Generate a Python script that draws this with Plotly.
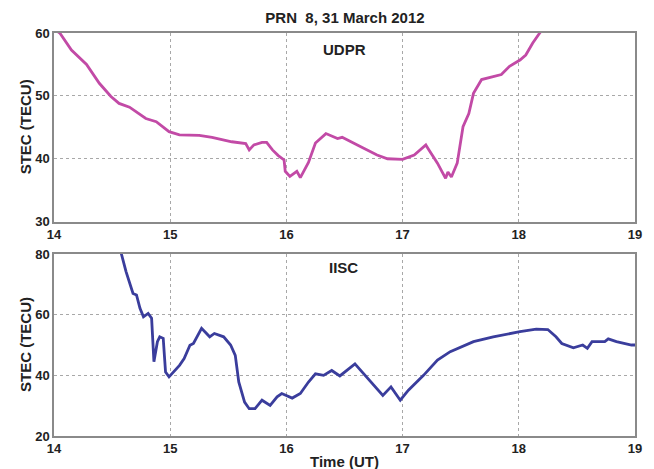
import plotly.graph_objects as go
from plotly.subplots import make_subplots

# UDPR STEC (top panel)
udpr_time = [14.0, 14.05, 14.15, 14.28, 14.39, 14.49, 14.56, 14.65, 14.79, 14.88, 14.99, 15.08, 15.25,
             15.36, 15.53, 15.65, 15.68, 15.72, 15.79, 15.83, 15.88, 15.93, 15.98, 15.99, 16.03, 16.09,
             16.12, 16.19, 16.25, 16.30, 16.34, 16.44, 16.48, 16.64, 16.78, 16.87, 17.0, 17.10, 17.20,
             17.22, 17.30, 17.34, 17.37, 17.39, 17.42, 17.47, 17.52, 17.57, 17.61, 17.68, 17.78, 17.85,
             17.92, 18.01, 18.06, 18.12, 18.18, 18.22]
udpr_stec = [60.6, 60.0, 57.3, 55.0, 52.0, 49.9, 48.8, 48.2, 46.4, 45.9, 44.3, 43.8, 43.7,
             43.4, 42.7, 42.4, 41.4, 42.2, 42.6, 42.6, 41.4, 40.5, 39.8, 38.0, 37.2, 38.0,
             37.0, 39.4, 42.5, 43.4, 44.0, 43.2, 43.4, 41.9, 40.6, 40.0, 39.9, 40.6, 42.2,
             41.6, 39.3, 37.9, 36.9, 37.9, 37.1, 39.3, 45.1, 47.2, 50.4, 52.6, 53.1, 53.4,
             54.7, 55.7, 56.5, 58.4, 60.0, 61.0]

# IISC STEC (bottom panel)
iisc_time = [14.57, 14.58, 14.62, 14.65, 14.68, 14.71, 14.74, 14.77, 14.81, 14.84, 14.85, 14.86, 14.87,
             14.89, 14.91, 14.94, 14.95, 14.96, 14.99, 15.08, 15.12, 15.17, 15.20, 15.27, 15.34,
             15.38, 15.46, 15.52, 15.56, 15.59, 15.64, 15.68, 15.73, 15.79, 15.86, 15.92, 15.96,
             16.05, 16.12, 16.19, 16.25, 16.32, 16.39, 16.46, 16.59, 16.70, 16.83, 16.90, 16.98,
             17.05, 17.18, 17.30, 17.41, 17.61, 17.78, 18.01, 18.15, 18.25, 18.32, 18.37, 18.47,
             18.55, 18.59, 18.63, 18.74, 18.77, 18.84, 18.97, 19.0]
iisc_stec = [81.0, 80.0, 74.2, 70.9, 67.0, 66.5, 62.1, 59.3, 60.4, 58.8, 51.1, 44.5, 46.7,
             51.1, 52.7, 52.2, 46.6, 41.1, 39.5, 43.3, 45.5, 49.9, 50.5, 55.5, 52.7,
             53.8, 52.7, 50.0, 46.6, 37.8, 31.2, 29.0, 29.0, 31.8, 30.1, 32.9, 34.0,
             32.5, 34.0, 37.8, 40.5, 40.0, 41.6, 39.8, 43.8, 38.9, 33.4, 36.2, 31.8,
             35.1, 40.0, 45.0, 47.8, 51.1, 52.7, 54.4, 55.2, 55.1, 52.7, 50.5, 49.1,
             50.0, 48.9, 51.1, 51.1, 52.0, 51.1, 50.0, 50.0]

x_ticks = [14, 15, 16, 17, 18, 19]
top_y_ticks = [30, 40, 50, 60]
bottom_y_ticks = [20, 40, 60, 80]

fig = make_subplots(rows=2, cols=1)
fig.add_trace(go.Scatter(x=udpr_time, y=udpr_stec, mode="lines",
                         line=dict(color="#C24AA6", width=2.8), showlegend=False), row=1, col=1)
fig.add_trace(go.Scatter(x=iisc_time, y=iisc_stec, mode="lines",
                         line=dict(color="#3A3D9C", width=2.8), showlegend=False), row=2, col=1)

tickfont = dict(family="Arial", size=13, color="#222222", weight="bold")
axis_common = dict(showline=True, mirror=True, linecolor="#8A8A8A", linewidth=1.5,
                   showgrid=True, gridcolor="#A8A8A8", griddash="dot", gridwidth=1,
                   zeroline=False, ticks="", tickfont=tickfont)

fig.update_xaxes(range=[14, 19], tickvals=x_ticks, **axis_common)
fig.update_yaxes(**axis_common)
fig.update_yaxes(range=[30, 60], tickvals=top_y_ticks, row=1, col=1)
fig.update_yaxes(range=[20, 80], tickvals=bottom_y_ticks, row=2, col=1)
fig.update_yaxes(domain=[0.532, 1.0], row=1, col=1)
fig.update_yaxes(domain=[0.0, 0.4516], row=2, col=1)

W, H = 646, 461
fig.update_layout(
    width=W, height=H,
    margin=dict(l=46, r=14, t=25, b=33),
    plot_bgcolor="white", paper_bgcolor="white",
    title=dict(text="PRN  8, 31 March 2012", x=337 / W, xanchor="center",
               y=1 - 10 / H, yanchor="middle", yref="container",
               font=dict(family="Arial", size=15, color="#222222", weight="bold")),
)

labfont = dict(family="Arial", size=15, color="#222222", weight="bold")
fig.add_annotation(text="UDPR", xref="x", yref="y", x=16.50, y=57.3, showarrow=False,
                   font=dict(family="Arial", size=15, color="#222222", weight="bold"))
fig.add_annotation(text="IISC", xref="x2", yref="y2", x=16.49, y=75.4, showarrow=False,
                   font=dict(family="Arial", size=15, color="#222222", weight="bold"))
fig.add_annotation(text="STEC (TECU)", xref="paper", yref="paper", x=0.0, xanchor="center",
                   yanchor="middle", xshift=-29, y=(0.532 + 1.0) / 2, textangle=-90,
                   showarrow=False, font=labfont)
fig.add_annotation(text="STEC (TECU)", xref="paper", yref="paper", x=0.0, xanchor="center",
                   yanchor="middle", xshift=-29, y=0.4516 / 2, textangle=-90,
                   showarrow=False, font=labfont)
fig.add_annotation(text="Time (UT)", xref="paper", yref="paper", x=0.5, y=0,
                   xanchor="center", yanchor="middle",
                   yshift=-25, showarrow=False, font=labfont)

fig.write_html("out.html")
